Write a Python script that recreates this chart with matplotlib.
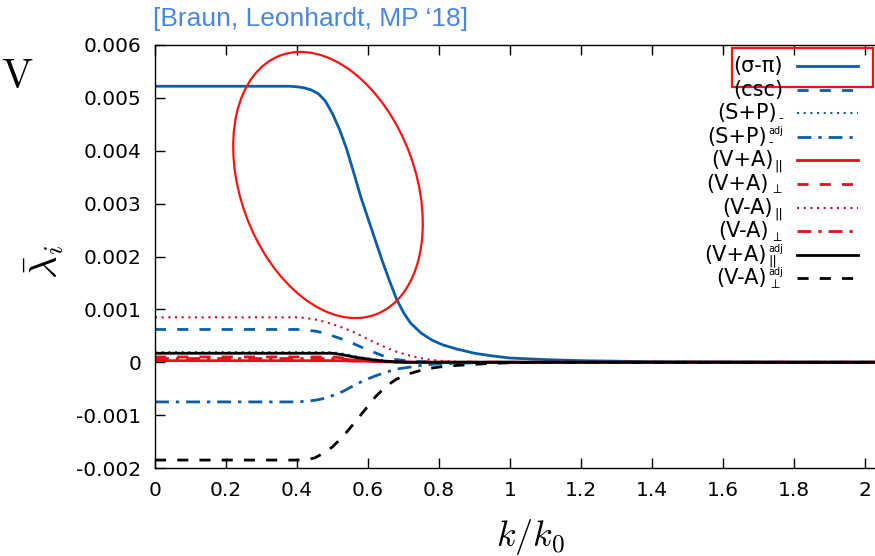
import matplotlib
matplotlib.use('Agg')
import matplotlib.pyplot as plt
from matplotlib.lines import Line2D
from matplotlib.patches import Ellipse, Rectangle

plt.rcParams['font.family'] = ['DejaVu Sans']
plt.rcParams['mathtext.fontset'] = 'dejavusans'
plt.rcParams['axes.unicode_minus'] = False

# k/k0 grid and the couplings along it
k = [0, 0.1, 0.2, 0.3, 0.35, 0.4, 0.42, 0.45, 0.48, 0.5, 0.53, 0.56, 0.59,
     0.62, 0.65, 0.68, 0.72, 0.76, 0.8, 0.85, 0.9, 0.95, 1.0, 1.1, 1.2,
     1.3, 1.4, 1.6, 1.8, 2.0, 2.1]

# (sigma-pi) has the steep drop, so it gets its own finer grid
k_sp = [0, 0.3, 0.38, 0.40, 0.42, 0.44, 0.46, 0.48, 0.50, 0.52, 0.54, 0.56,
        0.58, 0.60, 0.62, 0.64, 0.66, 0.68, 0.70, 0.72, 0.75, 0.78, 0.81,
        0.85, 0.9, 0.95, 1.0, 1.1, 1.2, 1.3, 1.4, 1.6, 1.8, 2.1]
sigma_pi = [0.00522, 0.00522, 0.00522, 0.00521, 0.00519, 0.00515, 0.00508,
            0.00494, 0.00470, 0.00440, 0.00403, 0.00358, 0.00312, 0.00272,
            0.00232, 0.00192, 0.00155, 0.00120, 0.00094, 0.00074, 0.00055,
            0.00042, 0.00033, 0.00025, 0.00017, 0.00012, 0.00008, 0.00005,
            0.00003, 0.00002, 0.00001, 0.000005, 0, 0]

csc = [0.00062, 0.00062, 0.00062, 0.00062, 0.00062, 0.00062, 0.00061,
       0.00059, 0.00055, 0.00050, 0.00043, 0.00035, 0.00026, 0.00018,
       0.00010, 0.00005, 0.00002, 0.00001, 0, 0, 0, 0, 0, 0, 0, 0, 0, 0,
       0, 0, 0]
sp_minus = [0.00019, 0.00019, 0.00019, 0.00019, 0.00019, 0.00019, 0.00019,
            0.00019, 0.00019, 0.00019, 0.00016, 0.00012, 0.00008, 0.00005,
            0.00003, 0.00001, 0, 0, 0, 0, 0, 0, 0, 0, 0, 0, 0, 0, 0, 0, 0]
sp_adj = [-0.00075, -0.00075, -0.00075, -0.00075, -0.00075, -0.00075,
          -0.00074, -0.00072, -0.00068, -0.00063, -0.00055, -0.00044,
          -0.00034, -0.00026, -0.00019, -0.00013, -0.00009, -0.00005,
          -0.00003, -0.00002, -0.00001, 0, 0, 0, 0, 0, 0, 0, 0, 0, 0]
vpa_par = [0.00003, 0.00003, 0.00003, 0.00003, 0.00003, 0.00003, 0.00003,
           0.00003, 0.00003, 0.00003, 0.00003, 0.00002, 0.00002, 0.00001,
           0.00001, 0, 0, 0, 0, 0, 0, 0, 0, 0, 0, 0, 0, 0, 0, 0, 0]
vpa_perp = [0.0001, 0.0001, 0.0001, 0.0001, 0.0001, 0.0001, 0.0001, 0.0001,
            0.0001, 0.0001, 0.00008, 0.00006, 0.00004, 0.00002, 0.00001, 0,
            0, 0, 0, 0, 0, 0, 0, 0, 0, 0, 0, 0, 0, 0, 0]
vma_par = [0.00085, 0.00085, 0.00085, 0.00085, 0.00085, 0.00085, 0.00084,
           0.00081, 0.00076, 0.00072, 0.00065, 0.00057, 0.00047, 0.00037,
           0.00028, 0.00020, 0.00012, 0.00006, 0.00003, 0.00001, 0, 0, 0,
           0, 0, 0, 0, 0, 0, 0, 0]
vma_perp = [0.00007, 0.00007, 0.00007, 0.00007, 0.00007, 0.00007, 0.00007,
            0.00007, 0.00007, 0.00007, 0.00006, 0.00004, 0.00003, 0.00002,
            0.00001, 0, 0, 0, 0, 0, 0, 0, 0, 0, 0, 0, 0, 0, 0, 0, 0]
vpa_adj = [0.00017, 0.00017, 0.00017, 0.00017, 0.00017, 0.00017, 0.00017,
           0.00017, 0.00017, 0.00017, 0.00014, 0.00010, 0.00007, 0.00004,
           0.00002, 0.00001, 0, 0, 0, 0, 0, 0, 0, 0, 0, 0, 0, 0, 0, 0, 0]
vma_adj = [-0.00185, -0.00185, -0.00185, -0.00185, -0.00185, -0.00185,
           -0.00185, -0.00181, -0.00170, -0.00160, -0.00140, -0.00116,
           -0.00091, -0.00066, -0.00046, -0.00032, -0.00021, -0.00013,
           -0.00009, -0.00006, -0.00004, -0.00002, -0.00001, 0, 0, 0, 0, 0,
           0, 0, 0]

# key entries: (main text, subscript, superscript)
PAR, PERP = '||', r'$\perp$'
labels = [('(σ-π)', '', ''), ('(csc)', '', ''), ('(S+P)', '-', ''),
          ('(S+P)', '-', 'adj'), ('(V+A)', PAR, ''), ('(V+A)', PERP, ''),
          ('(V-A)', PAR, ''), ('(V-A)', PERP, ''), ('(V+A)', PAR, 'adj'),
          ('(V-A)', PERP, 'adj')]

xticks = [0, 0.2, 0.4, 0.6, 0.8, 1.0, 1.2, 1.4, 1.6, 1.8, 2.0]
xticklabels = ['0', '0.2', '0.4', '0.6', '0.8', '1', '1.2', '1.4', '1.6', '1.8', '2']
yticks = [-0.002, -0.001, 0, 0.001, 0.002, 0.003, 0.004, 0.005, 0.006]
yticklabels = ['-0.002', '-0.001', '0', '0.001', '0.002', '0.003', '0.004', '0.005', '0.006']

blue = '#0a5ea8'
red = '#e2101e'
dotted = (0, (1, 2.2))
dashed = (0, (4, 4))
dashdot = (0, (5, 2.5, 1.2, 2.5))

styles = [
    dict(color=blue, lw=2.0, ls='-'),
    dict(color=blue, lw=2.0, ls=dashed),
    dict(color=blue, lw=1.5, ls=dotted),
    dict(color=blue, lw=2.0, ls=dashdot),
    dict(color=red, lw=2.0, ls='-'),
    dict(color=red, lw=2.0, ls=dashed),
    dict(color='#c8102e', lw=1.5, ls=dotted),
    dict(color=red, lw=2.0, ls=dashdot),
    dict(color='black', lw=2.0, ls='-'),
    dict(color='black', lw=2.0, ls=dashed),
]
series = [(k_sp, sigma_pi), (k, csc), (k, sp_minus), (k, sp_adj),
          (k, vpa_par), (k, vpa_perp), (k, vma_par), (k, vma_perp),
          (k, vpa_adj), (k, vma_adj)]

W, H = 875, 556
fig = plt.figure(figsize=(W / 100, H / 100), dpi=100)
ax = fig.add_axes([155 / W, 88 / H, 727.75 / W, 423 / H])

for (xs, ys), st in zip(series, styles):
    ax.plot(xs, ys, **st)

ax.set_xlim(0, 2.05)
ax.set_ylim(-0.002, 0.006)
ax.set_xticks(xticks)
ax.set_xticklabels(xticklabels)
ax.set_yticks(yticks)
ax.set_yticklabels(yticklabels)
ax.tick_params(direction='in', length=7, width=1, labelsize=14.5, top=True)
ax.tick_params(axis='x', pad=9)
ax.tick_params(axis='y', pad=10)
for s in ax.spines.values():
    s.set_linewidth(1.0)


def fx(px):
    return px / W


def fy(py):
    return 1 - py / H


# key: evenly spaced rows, text right-aligned against the line samples
renderer = fig.canvas.get_renderer()
row0, dy, right = 66, 23.6, 783
for i, ((main, sub, sup), st) in enumerate(zip(labels, styles)):
    yline = row0 + i * dy
    base = yline + 6
    w = 0
    parts = []
    if sub:
        drop = 3 if sub == '-' else 3.5
        t = fig.text(0, fy(base + drop), sub, fontsize=9.5, ha='left',
                     va='baseline')
        parts.append(t)
        w = max(w, t.get_window_extent(renderer).width)
    if sup:
        t = fig.text(0, fy(base - 9), sup, fontsize=7, ha='left',
                     va='baseline')
        parts.append(t)
        w = max(w, t.get_window_extent(renderer).width)
    xmain = right - w - (1 if w else 0)
    fig.text(fx(xmain), fy(base), main, fontsize=15, ha='right',
             va='baseline')
    for t in parts:
        t.set_x(fx(xmain + 1))
    fig.add_artist(Line2D([fx(797), fx(858)], [fy(yline), fy(yline)],
                          transform=fig.transFigure, **st))

# labels
fig.text(fx(531), fy(537), r'$k/k_0$', fontsize=26, math_fontfamily='cm',
         ha='center', va='center')
fig.text(fx(44), fy(262), r'$\bar{\lambda}_i$', fontsize=28,
         math_fontfamily='cm', rotation=90, ha='center', va='center')
fig.text(fx(1), fy(76), r'$\mathrm{V}$', fontsize=30, math_fontfamily='cm',
         ha='left', va='center')
fig.text(fx(153), fy(19), "[Braun, Leonhardt, MP \u201818]",
         fontsize=19, family='Liberation Sans', color='#4a86e8',
         ha='left', va='center')

# highlight marks in pixel space
over = fig.add_axes([0, 0, 1, 1], facecolor='none')
over.set_xlim(0, W)
over.set_ylim(0, H)
over.axis('off')
over.add_patch(Ellipse((328, H - 185), 276, 175, angle=110, fill=False,
                       edgecolor='#ff1010', lw=1.6))
over.add_patch(Rectangle((732, H - 87), 141, 39, fill=False,
                         edgecolor='#ff1010', lw=1.6))

fig.savefig('out.png', dpi=100)
